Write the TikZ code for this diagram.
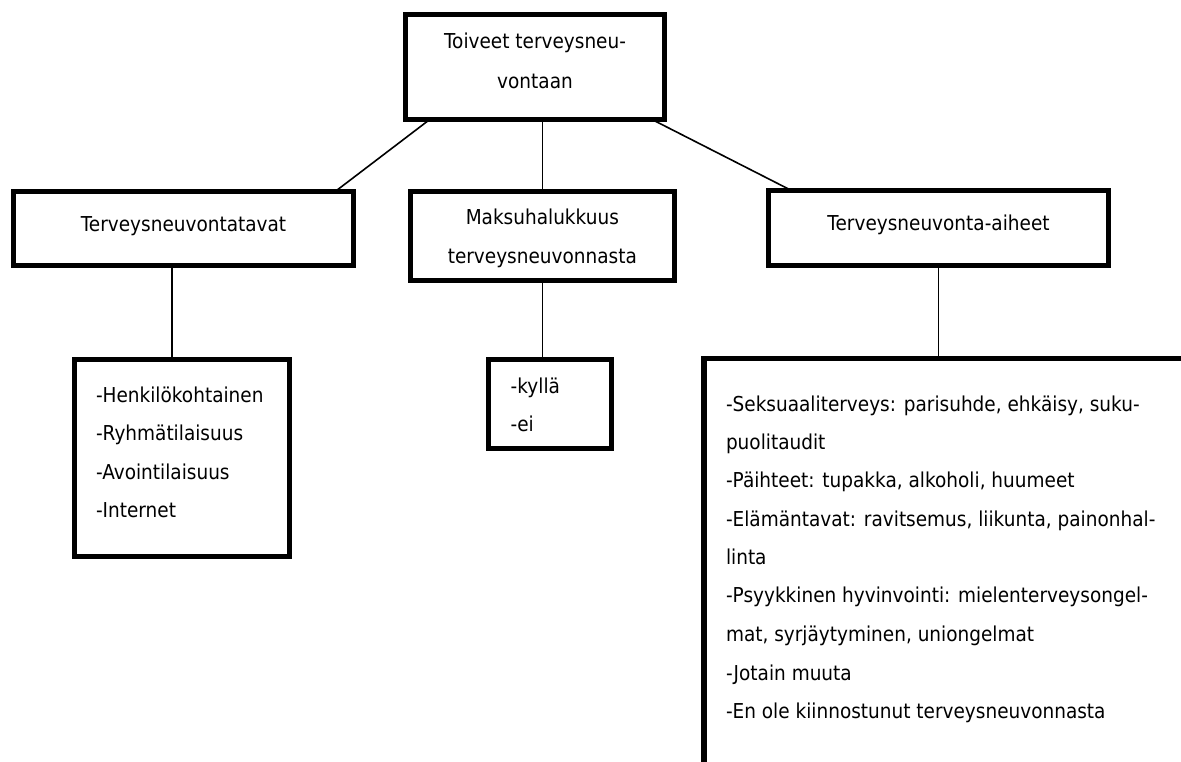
\documentclass[tikz,border=0pt]{standalone}
\usepackage{fontspec}
\setmainfont[FakeStretch=0.9]{DejaVu Sans}
\usetikzlibrary{calc}
\begin{document}
\begin{tikzpicture}[x=0.75pt,y=-0.75pt,
  box/.style={draw, rectangle, line width=4pt, fill=white, inner sep=0pt, outer sep=0pt},
  txt/.style={inner sep=0pt, outer sep=0pt, anchor=base, font=\fontsize{15.4pt}{18pt}\selectfont},
  ltxt/.style={txt, anchor=base west},
  conn/.style={line width=1.2pt}]
\useasboundingbox (0,0) rectangle (1181,762);
\clip (0,0) rectangle (1181,762);
\fill[white] (0,0) rectangle (1181,762);
% boxes
\node[box, minimum width=258.6*0.75pt, minimum height=104.6*0.75pt] (top) at (535,67) {};
\node[box, minimum width=339.7*0.75pt, minimum height=73.7*0.75pt] (L1) at (183.5,228.5) {};
\node[box, minimum width=264.1*0.75pt, minimum height=88.7*0.75pt] (M1) at (542.3,236) {};
\node[box, minimum width=339.7*0.75pt, minimum height=74.7*0.75pt] (R1) at (938.5,228) {};
\node[box, minimum width=214.7*0.75pt, minimum height=196.7*0.75pt] (L2) at (182,458) {};
\node[box, minimum width=122.7*0.75pt, minimum height=88.7*0.75pt] (M2) at (550,404) {};
\node[box, minimum width=593.9*0.75pt, minimum height=538.7*0.75pt] (R2) at (1000.85,628) {};
% texts
\node[txt] (t1) at (535,48.3) {Toiveet terveysneu-};
\node[txt] (t2) at (535,89) {vontaan};
\node[txt] (l1) at (183.5,231.7) {Terveysneuvontatavat};
\node[txt] (m1a) at (542.3,225) {Maksuhalukkuus};
\node[txt] (m1b) at (542.3,263.3) {terveysneuvonnasta};
\node[txt] (r1) at (938.5,230.7) {Terveysneuvonta-aiheet};
\node[ltxt] (l2a) at (96,402.7) {-Henkilökohtainen};
\node[ltxt] (l2b) at (96,440.7) {-Ryhmätilaisuus};
\node[ltxt] (l2c) at (96,479.3) {-Avointilaisuus};
\node[ltxt] (l2d) at (96,517.3) {-Internet};
\node[ltxt] (m2a) at (510.7,393.3) {-kyllä};
\node[ltxt] (m2b) at (510.7,431.7) {-ei};
\node[ltxt] (r2a) at (726,411.7) {-Seksuaaliterveys: parisuhde, ehkäisy, suku-};
\node[ltxt] (r2b) at (726,449.3) {puolitaudit};
\node[ltxt] (r2c) at (726,487.7) {-Päihteet: tupakka, alkoholi, huumeet};
\node[ltxt] (r2d) at (726,526) {-Elämäntavat: ravitsemus, liikunta, painonhal-};
\node[ltxt] (r2e) at (726,564) {linta};
\node[ltxt] (r2f) at (726,602.3) {-Psyykkinen hyvinvointi: mielenterveysongel-};
\node[ltxt] (r2g) at (726,641) {mat, syrjäytyminen, uniongelmat};
\node[ltxt] (r2h) at (726,680) {-Jotain muuta};
\node[ltxt] (r2i) at (726,718.3) {-En ole kiinnostunut terveysneuvonnasta};
% connectors
\coordinate (cx) at (172,0);
\draw[conn] ($(top.south west)!0.094!(top.south east)$) -- ($(L1.north west)!0.946!(L1.north east)$);
\draw[conn] (M1.north) -- (M1.north |- top.south);
\draw[conn] ($(top.south west)!0.951!(top.south east)$) -- ($(R1.north west)!0.068!(R1.north east)$);
\draw[conn] (L1.south -| cx) -- (L2.north -| cx);
\draw[conn] (M1.south) -- (M1.south |- M2.north);
\draw[conn] (R1.south) -- (R1.south |- R2.north);
\end{tikzpicture}
\end{document}
